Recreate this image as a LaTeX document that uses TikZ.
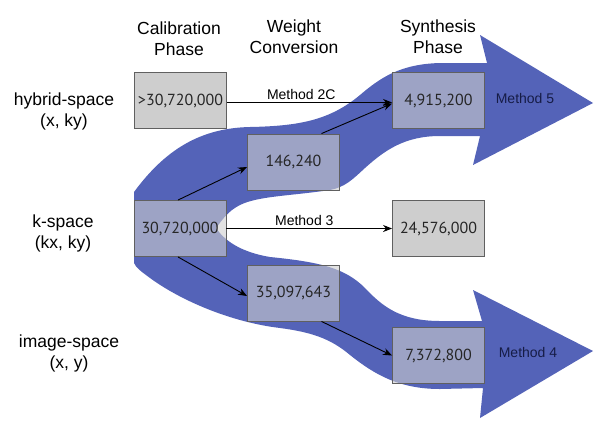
\documentclass[tikz,border=0pt]{standalone}
\usepackage{fontspec}
\setmainfont{Liberation Sans}
\newfontfamily\numfont{PT Sans}
\usetikzlibrary{arrows.meta}
\definecolor{bandblue}{RGB}{84,99,184}
\definecolor{boxgray}{RGB}{206,206,206}
\definecolor{boxline}{RGB}{96,96,96}
\definecolor{navytext}{RGB}{22,28,70}
\begin{document}
\begin{tikzpicture}[x=1pt, y=-1pt,
    box/.style={draw=boxline, line width=0.9pt, fill=boxgray, minimum width=92pt, minimum height=56pt, inner sep=0pt, text=black!85, font=\numfont\fontsize{16}{19}\selectfont},
    overbox/.style={box, fill opacity=0.6, text opacity=1},
    head/.style={align=center, font=\fontsize{17.5}{21}\selectfont},
    method/.style={font=\fontsize{14}{16}\selectfont, inner sep=2pt},
    flow/.style={-{Stealth[length=9pt, width=7pt]}, line width=0.9pt}]
    \useasboundingbox (0,0) rectangle (601,429);
    \fill[bandblue] (134,192) .. controls (165,150) and (200,128) .. (250,127)
        .. controls (300,126) and (330,120) .. (360,95)
        .. controls (380,78) and (400,64) .. (440,63)
        -- (487,63) -- (480,35) -- (593,103) -- (473,165) -- (480,136)
        -- (440,136) .. controls (405,136) and (385,150) .. (365,168)
        .. controls (352,180) and (345,187) .. (330,190)
        .. controls (290,196) and (258,196) .. (240,205)
        .. controls (228,211) and (222,220) .. (216,228)
        .. controls (224,240) and (240,252) .. (270,257)
        .. controls (320,262) and (345,268) .. (365,288)
        .. controls (382,306) and (400,321) .. (440,321)
        -- (482,321) -- (473,290) -- (593,351) -- (480,418) -- (483,388)
        -- (440,389) .. controls (400,389) and (375,375) .. (350,355)
        .. controls (330,338) and (310,332) .. (280,328)
        .. controls (230,322) and (180,300) .. (150,278)
        .. controls (142,272) and (136,268) .. (134,263) -- cycle;
    \node[head] (calib) at (179,39) {Calibration\\Phase};
    \node[head] (weight) at (294,37) {Weight\\Conversion};
    \node[head] (synth) at (438,37) {Synthesis\\Phase};
    \node[head] (hyb) at (64,111) {hybrid-space\\(x, ky)};
    \node[head] (kspace) at (63,233) {k-space\\(kx, ky)};
    \node[head] (imgspace) at (69,353) {image-space\\(x, y)};
    \node[box] (hybcal) at (180.5,100.5) {>30,720,000};
    \node[overbox] (kcal) at (180,228.5) {30,720,000};
    \node[overbox] (hybwc) at (293.5,162) {146,240};
    \node[overbox] (imgwc) at (293.5,293) {35,097,643};
    \node[overbox] (hybsyn) at (438.5,100.5) {4,915,200};
    \node[box] (ksyn) at (438.5,228.5) {24,576,000};
    \node[overbox] (imgsyn) at (438.5,355.5) {7,372,800};
    \node[method, text=navytext] (m5) at (525,98) {Method 5};
    \node[method, text=navytext] (m4) at (528,352) {Method 4};
    \draw[flow] ([yshift=-2pt]hybcal.east) -- ([yshift=-2pt]hybsyn.west) node[method, above, pos=0.45] (m2c) {Method 2C};
    \draw[flow] (kcal.east) -- (ksyn.west) node[method, above, pos=0.47] (m3) {Method 3};
    \draw[flow] ([xshift=-2pt]kcal.north) -- ([yshift=-5pt]hybwc.west);
    \draw[flow] ([xshift=28pt]hybwc.north) -- ([yshift=-3pt]hybsyn.west);
    \draw[flow] ([xshift=-2pt]kcal.south) -- ([yshift=-3pt]imgwc.west);
    \draw[flow] ([xshift=28pt]imgwc.south) -- (imgsyn.west);
\end{tikzpicture}
\end{document}
